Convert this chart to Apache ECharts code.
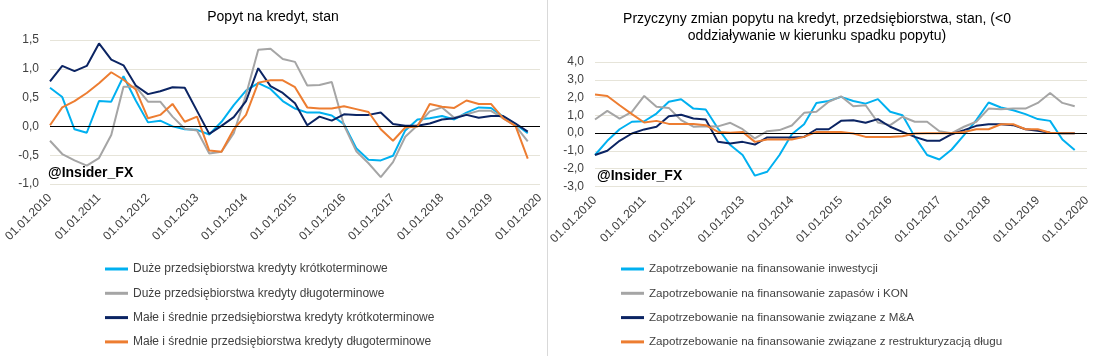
<!DOCTYPE html>
<html><head><meta charset="utf-8">
<script src="https://cdn.jsdelivr.net/npm/echarts@6/dist/echarts.min.js"></script>
<style>html,body{margin:0;padding:0;background:#fff}#c{width:1094px;height:356px}</style>
</head><body><div id="c"></div>
<script>
const quarters = [
 '01.01.2010','01.04.2010','01.07.2010','01.10.2010',
 '01.01.2011','01.04.2011','01.07.2011','01.10.2011',
 '01.01.2012','01.04.2012','01.07.2012','01.10.2012',
 '01.01.2013','01.04.2013','01.07.2013','01.10.2013',
 '01.01.2014','01.04.2014','01.07.2014','01.10.2014',
 '01.01.2015','01.04.2015','01.07.2015','01.10.2015',
 '01.01.2016','01.04.2016','01.07.2016','01.10.2016',
 '01.01.2017','01.04.2017','01.07.2017','01.10.2017',
 '01.01.2018','01.04.2018','01.07.2018','01.10.2018',
 '01.01.2019','01.04.2019','01.07.2019','01.10.2019',
 '01.01.2020'];

const leftTitle = 'Popyt na kredyt, stan';
const rightTitle = 'Przyczyny zmian popytu na kredyt, przedsiębiorstwa, stan, (<0\noddziaływanie w kierunku spadku popytu)';
const watermark = '@Insider_FX';

const leftNames = [
 'Duże przedsiębiorstwa kredyty krótkoterminowe',
 'Duże przedsiębiorstwa kredyty długoterminowe',
 'Małe i średnie przedsiębiorstwa kredyty krótkoterminowe',
 'Małe i średnie przedsiębiorstwa kredyty długoterminowe'];
const rightNames = [
 'Zapotrzebowanie na finansowanie inwestycji',
 'Zapotrzebowanie na finansowanie zapasów i KON',
 'Zapotrzebowanie na finansowanie związane z M&A',
 'Zapotrzebowanie na finansowanie związane z restrukturyzacją długu'];

// Left chart: Popyt na kredyt
const duzeKrotko = [0.67,0.51,-0.05,-0.11,0.44,0.43,0.87,0.45,0.07,0.10,0.00,-0.05,-0.06,-0.14,0.08,0.37,0.62,0.75,0.65,0.44,0.31,0.24,0.24,0.19,0.04,-0.38,-0.58,-0.59,-0.51,-0.07,0.12,0.14,0.18,0.12,0.24,0.33,0.32,0.17,0.04,-0.12];
const duzeDlugo = [-0.25,-0.48,-0.59,-0.68,-0.55,-0.15,0.69,0.69,0.43,0.43,0.17,-0.04,-0.07,-0.47,-0.44,-0.12,0.55,1.33,1.35,1.17,1.12,0.71,0.72,0.77,0.02,-0.43,-0.64,-0.88,-0.62,-0.18,0.02,0.26,0.33,0.15,0.21,0.27,0.27,0.14,0.01,-0.26];
const mspKrotko = [0.78,1.05,0.96,1.05,1.44,1.16,1.06,0.71,0.56,0.61,0.68,0.67,0.27,-0.13,0.01,0.16,0.44,1.01,0.70,0.58,0.40,0.02,0.17,0.10,0.21,0.20,0.20,0.24,0.04,0.01,0.01,0.05,0.12,0.14,0.20,0.15,0.18,0.18,0.05,-0.09];
const mspDlugo = [0.02,0.33,0.44,0.58,0.75,0.94,0.81,0.64,0.14,0.20,0.39,0.08,0.17,-0.42,-0.44,-0.05,0.20,0.76,0.80,0.80,0.68,0.33,0.31,0.31,0.35,0.30,0.25,-0.05,-0.25,-0.02,0.00,0.39,0.34,0.32,0.45,0.39,0.39,0.14,0.01,-0.56];

// Right chart: Przyczyny zmian popytu
const inwestycje = [-1.23,-0.43,0.22,0.64,0.67,1.10,1.76,1.91,1.38,1.33,0.26,-0.67,-1.23,-2.39,-2.17,-1.23,-0.06,0.50,1.70,1.81,2.04,1.81,1.66,1.91,1.20,1.01,-0.21,-1.23,-1.48,-0.92,-0.11,0.73,1.72,1.44,1.29,1.07,0.79,0.69,-0.36,-0.95];
const zapasy = [0.77,1.25,0.82,1.20,2.09,1.48,1.42,0.73,0.36,0.39,0.38,0.58,0.22,-0.30,0.11,0.17,0.43,1.14,1.20,1.76,2.07,1.51,1.57,0.60,0.45,0.92,0.64,0.64,0.11,0.00,0.36,0.64,1.38,1.35,1.38,1.38,1.70,2.26,1.70,1.51];
const fuzje = [-1.23,-0.99,-0.43,-0.02,0.21,0.36,0.95,1.03,0.82,0.77,-0.49,-0.58,-0.49,-0.64,-0.24,-0.24,-0.24,-0.21,0.22,0.22,0.69,0.73,0.58,0.79,0.36,0.07,-0.21,-0.43,-0.43,-0.06,0.17,0.41,0.50,0.50,0.45,0.22,0.13,0.02,0.00,0.00];
const restrukturyzacja = [2.17,2.09,1.57,1.07,0.60,0.69,0.52,0.52,0.52,0.45,0.07,0.02,0.07,-0.49,-0.36,-0.36,-0.36,-0.21,0.07,0.07,0.07,-0.02,-0.21,-0.22,-0.22,-0.17,-0.02,0.00,0.00,0.00,0.06,0.22,0.22,0.50,0.50,0.22,0.22,0.02,0.00,0.00];

const colors = ['#00B0F0','#A5A5A5','#0B2463','#ED7D31'];
const FONT = "'Liberation Sans', Arial, sans-serif";
const labelColor = '#404040';
const gridColor = '#E6E4D9';

const chart = echarts.init(document.getElementById('c'), null, {renderer:'canvas'});

function fmt(v){ return v.toFixed(1).replace('.', ','); }

function xAxisFor(i){
  return {
    type:'category', gridIndex:i, data:quarters, boundaryGap:false,
    axisLine:{show:false}, axisTick:{show:false}, splitLine:{show:false},
    axisLabel:{interval:3, rotate:45, margin:12, fontSize:12, color:labelColor, fontFamily:FONT}
  };
}
function yAxisFor(i, min, max, interval){
  return {
    type:'value', gridIndex:i, min:min, max:max, interval:interval,
    axisLine:{show:false}, axisTick:{show:false},
    splitLine:{lineStyle:{color:gridColor, width:1}},
    axisLabel:{formatter:fmt, fontSize:12, color:labelColor, fontFamily:FONT, margin:11}
  };
}
function lineSeries(name, data, color, gi){
  return {type:'line', name:name, data:data, xAxisIndex:gi, yAxisIndex:gi,
    symbol:'none', smooth:false, lineStyle:{width:2, color:color}, itemStyle:{color:color}, z:3};
}
function zeroSeries(gi){
  return {type:'line', name:'zero'+gi, data:[], xAxisIndex:gi, yAxisIndex:gi, z:2,
    markLine:{silent:true, symbol:'none', label:{show:false}, animation:false,
      lineStyle:{color:'#000', width:1, type:'solid'}, data:[{yAxis:0}]}};
}

function legendFor(names, left, size){
  return {data:names, left:left, orient:'vertical', top:262, height:110, padding:0, itemGap:10.3,
    itemWidth:23, itemHeight:3, icon:'rect',
    textStyle:{fontSize:size, color:labelColor, fontFamily:FONT, lineHeight:14}};
}

const option = {
  animation:false,
  backgroundColor:'#fff',
  title:[
    {text:leftTitle, left:268, top:5, textAlign:'center',
     textStyle:{fontSize:14, fontWeight:'normal', color:'#000', fontFamily:FONT}},
    {text:rightTitle, left:812, top:6, textAlign:'center',
     textStyle:{fontSize:14, fontWeight:'normal', color:'#000', fontFamily:FONT, lineHeight:17}}
  ],
  grid:[
    {left:50, top:40, width:490, height:144},
    {left:595, top:62, width:492, height:124.5}
  ],
  xAxis:[xAxisFor(0), xAxisFor(1)],
  yAxis:[yAxisFor(0,-1,1.5,0.5), yAxisFor(1,-3,4,1)],
  legend:[
    legendFor(leftNames, 105, 12),
    legendFor(rightNames, 621, 11.6)
  ],
  graphic:[
    {type:'line', shape:{x1:547.5, y1:0, x2:547.5, y2:356}, style:{stroke:'#D9D9D9', lineWidth:1}},
    {type:'text', left:48, top:166, style:{text:watermark, font:"bold 14px "+FONT, fill:'#000'}},
    {type:'text', left:597, top:169, style:{text:watermark, font:"bold 14px "+FONT, fill:'#000'}}
  ],
  series:[
    zeroSeries(0), zeroSeries(1),
    lineSeries(leftNames[0], duzeKrotko, colors[0], 0),
    lineSeries(leftNames[1], duzeDlugo, colors[1], 0),
    lineSeries(leftNames[2], mspKrotko, colors[2], 0),
    lineSeries(leftNames[3], mspDlugo, colors[3], 0),
    lineSeries(rightNames[0], inwestycje, colors[0], 1),
    lineSeries(rightNames[1], zapasy, colors[1], 1),
    lineSeries(rightNames[2], fuzje, colors[2], 1),
    lineSeries(rightNames[3], restrukturyzacja, colors[3], 1)
  ]
};
chart.setOption(option);
</script>
</body></html>
